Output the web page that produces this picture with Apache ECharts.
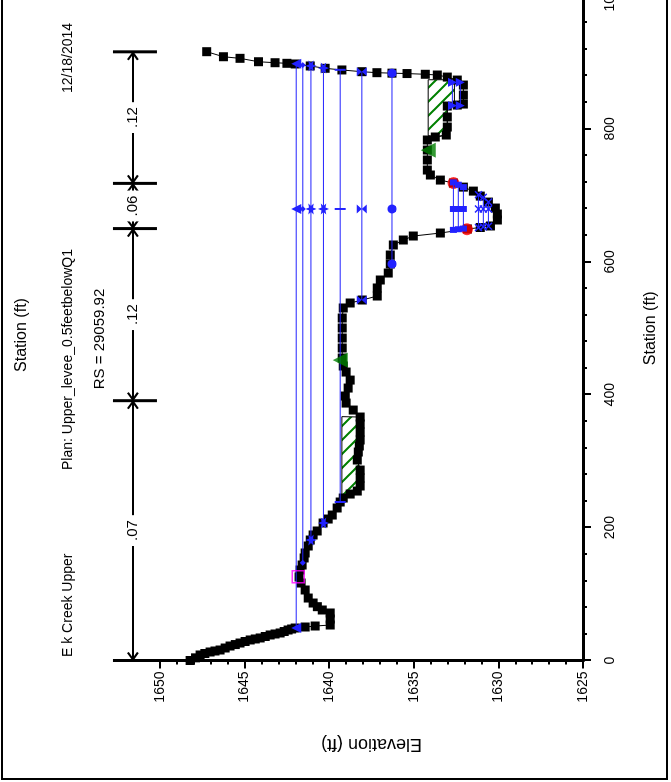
<!DOCTYPE html>
<html>
<head>
<meta charset="utf-8">
<script src="https://cdn.jsdelivr.net/npm/echarts@6/dist/echarts.min.js"></script>
<style>
    body { margin: 0; background: #fff; }
    #frame { position: relative; width: 671px; height: 782px; overflow: hidden; background: #fff; }
    #main { position: absolute; left: 0; top: 0; width: 790px; height: 671px; transform-origin: 0 0; transform: translate(0px, 782px) rotate(-90deg); }
    #border { position: absolute; left: 1px; top: -10px; width: 667px; height: 790px; border: 2px solid #000; box-sizing: border-box; pointer-events: none; }
</style>
</head>
<body>
<div id="frame">
    <div id="main"></div>
    <div id="border"></div>
</div>
<script>
    // ground profile (station ft, elevation ft)
    var groundStation = [0, 4, 8.3, 10.5, 12.8, 14.3, 15.8, 18.8, 21.8, 24, 26.3, 28.6, 30.9, 32.4, 33.9, 36.1, 38.4, 39.9, 41.4, 43.6, 45.9, 47.4, 48.9,
        50.4, 51.9, 53.4, 62.4, 71.5, 76, 81, 86.5, 94,
        106.1, 116.6, 125.7, 136.2, 143.7, 154.3, 161.8, 172.3, 181.3, 188.9, 194.9, 206.9, 212.9, 218.9, 229.5, 238.5, 244.5, 250.5, 255, 262.6,
        274.6, 286.6, 301.7, 313.7, 322.8, 331.8, 343.8, 355.9, 366.4, 376.9, 387.4, 398, 410, 422, 434.1, 443.2, 455.2, 470.3, 485.3, 500.4,
        515.4, 530.5, 538, 542.5, 548.5, 560.6, 572.6, 583.1, 596.7, 610.2, 625.3, 632.8, 638.8, 643.3, 649.4, 651.6, 653.9, 662.9, 671.9, 680.9,
        689.9, 698.9, 706.4, 712.4, 718.5, 723, 730.6, 738.1, 753.2, 768.2, 783.3, 787.8, 790.8, 802.8, 817.9, 834.4, 835.9, 837.4, 850.9, 866,
        873.5, 878, 881.1, 882.2, 883.3, 883.9, 884.6, 886.1, 888.7, 891.2, 894.7, 897.7, 898.7, 899.6, 901.1, 906.2, 908.6, 916.2];
    var groundElev = [1648.22, 1647.9, 1647.63, 1647.35, 1647.04, 1646.75, 1646.45, 1646.15, 1645.86, 1645.55, 1645.27, 1644.97, 1644.67, 1644.37, 1644.08, 1643.78, 1643.49, 1643.2, 1642.9, 1642.66, 1642.43, 1642.22, 1642.01,
        1641.42, 1640.83, 1639.94, 1639.94, 1639.94, 1640.41, 1640.7, 1640.95, 1641.24,
        1641.42, 1641.66, 1641.78, 1641.72, 1641.6, 1641.48, 1641.42, 1641.24, 1641.12, 1640.95, 1640.71, 1640.36, 1640.06, 1639.82, 1639.53, 1639.35, 1639.17, 1638.76, 1638.34, 1638.17,
        1638.17, 1638.17, 1638.34, 1638.28, 1638.22, 1638.17, 1638.17, 1638.17, 1638.17, 1638.58, 1639.0, 1639.05, 1638.88, 1638.76, 1639.0, 1639.17, 1639.23, 1639.23, 1639.23, 1639.23,
        1639.23, 1639.17, 1638.76, 1638.05, 1637.16, 1637.16, 1636.98, 1636.51, 1636.39, 1636.39, 1636.21, 1635.62, 1635.03, 1633.43, 1631.83, 1631.07, 1630.47, 1630.06, 1630.06, 1630.18,
        1630.59, 1631.07, 1631.48, 1632.07, 1632.66, 1633.43, 1634.02, 1634.2, 1634.2, 1634.2, 1634.2, 1633.73, 1633.08, 1633.02, 1633.02, 1633.02, 1632.43, 1632.07, 1632.07, 1632.07,
        1632.43, 1633.02, 1633.61, 1634.32, 1635.4, 1636.29, 1637.18, 1638.07, 1639.25, 1640.24, 1641.12, 1642.01, 1642.5, 1643.2, 1644.18, 1645.27, 1646.25, 1647.24];

    // water surfaces across the whole section
    var wsElev = [1641.95, 1641.56, 1641.08, 1640.34, 1639.35, 1638.07, 1636.29];
    var wsStart = [48.9, 147, 181.3, 206.9, 238.5, 542.5, 596.7];
    var wsEnd = [898, 896, 894.8, 891.5, 888.9, 886.1, 883.9];
    var wsMid = 679.5;

    // low water surfaces in the main channel
    var lowElev = [1632.66, 1632.37, 1632.07, 1631.18, 1630.89, 1630.59];
    var lowStart = [648, 649, 650, 651.5, 652.5, 653.5];
    var lowEnd = [719.5, 716, 712.4, 701, 697, 690];

    // ponded water right overbank
    var pondElev = [1632.72, 1632.25];
    var pondStart = [835, 835];
    var pondEnd = [870, 870];

    var bankStation = [649, 718.5];
    var bankElev = [1631.85, 1632.66];
    var ineffStation = [452, 768];
    var ineffElev = [1639.35, 1634.14];
    var leveeStation = [126];
    var leveeElev = [1641.83];

    var hatchAStation = [246, 367, 366.4, 355.9, 331.8, 301.7, 286.6, 262.6, 255, 250.5, 246];
    var hatchAElev = [1639.25, 1639.25, 1638.17, 1638.17, 1638.17, 1638.34, 1638.17, 1638.17, 1638.34, 1638.76, 1639.1];
    var hatchBStation = [790, 874, 874, 835.9, 834.4, 802.8, 790.8, 787.8];
    var hatchBElev = [1634.15, 1634.15, 1632.6, 1632.6, 1633.02, 1633.02, 1633.08, 1633.73];

    // manning's n
    var nStart = [0, 391, 650, 718];
    var nEnd = [391, 650, 718, 916];
    var nLabel = ['.07', '.12', '.06', '.12'];
    var nLineElev = 1651.6, nBarTop = 1652.78, nBarBottom = 1650.18;

    var FONT = 'Arial, "Liberation Sans", sans-serif';
    var BLUE = '#2222ff';

    function pair(xs, ys) {
        return xs.map(function (x, i) { return [x, ys[i]]; });
    }

    function hatchPattern() {
        var c = document.createElement('canvas');
        c.width = 14; c.height = 14;
        var g = c.getContext('2d');
        g.strokeStyle = '#008000';
        g.lineWidth = 2;
        g.beginPath();
        g.moveTo(-7, 7); g.lineTo(7, 21);
        g.moveTo(0, 0); g.lineTo(14, 14);
        g.moveTo(7, -7); g.lineTo(21, 7);
        g.stroke();
        return c;
    }
    var pattern = { image: hatchPattern(), repeat: 'repeat' };

    function polygonRenderer(xs, ys) {
        return function (params, api) {
            var pts = xs.map(function (x, i) { return api.coord([x, ys[i]]); });
            return {
                type: 'polygon',
                shape: { points: pts },
                style: { fill: pattern, stroke: '#000', lineWidth: 1 }
            };
        };
    }

    function renderN(params, api) {
        var i = params.dataIndex;
        var a = api.coord([nStart[i], nLineElev]);
        var b = api.coord([nEnd[i], nLineElev]);
        var top = api.coord([nEnd[i], nBarTop]);
        var bot = api.coord([nEnd[i], nBarBottom]);
        var y = a[1];
        var kids = [
            { type: 'line', shape: { x1: a[0], y1: y, x2: b[0], y2: y }, style: { stroke: '#000', lineWidth: 2 } },
            { type: 'polyline', shape: { points: [[a[0] + 8, y - 5], [a[0] + 1, y], [a[0] + 8, y + 5]] }, style: { stroke: '#000', lineWidth: 2, fill: null } },
            { type: 'polyline', shape: { points: [[b[0] - 8, y - 5], [b[0] - 1, y], [b[0] - 8, y + 5]] }, style: { stroke: '#000', lineWidth: 2, fill: null } },
            { type: 'line', shape: { x1: b[0], y1: top[1], x2: b[0], y2: bot[1] }, style: { stroke: '#000', lineWidth: 3 } },
            {
                type: 'text', x: (a[0] + b[0]) / 2, y: y,
                style: { text: nLabel[i], fill: '#000', font: '15px ' + FONT, align: 'center', verticalAlign: 'middle', backgroundColor: '#fff', padding: [0, 5] }
            }
        ];
        if (i === 0) {
            var z0 = api.coord([0, 1650]);
            var z1 = api.coord([0, nBarTop]);
            kids.push({ type: 'line', shape: { x1: z0[0], y1: z0[1], x2: z1[0], y2: z1[1] }, style: { stroke: '#000', lineWidth: 3 } });
        }
        return { type: 'group', children: kids };
    }

    var STAR = 'path://M5,0 L6.2,3.2 L9.5,2.5 L7.5,5 L9.5,7.5 L6.2,6.8 L5,10 L3.8,6.8 L0.5,7.5 L2.5,5 L0.5,2.5 L3.8,3.2 Z';
    var wsSymbols = [
        { symbol: 'triangle', size: 10 },
        { symbol: 'diamond', size: 6 },
        { symbol: STAR, size: 11 },
        { symbol: STAR, size: 11 },
        { symbol: 'rect', size: [2, 11] },
        { symbol: 'path://M0,0 L10,0 L0,10 L10,10 Z', size: [9, 10] },
        { symbol: 'circle', size: 9 }
    ];

    var series = [];

    series.push({ type: 'custom', renderItem: polygonRenderer(hatchAStation, hatchAElev), data: [[hatchAStation[0], hatchAElev[0]]], z: 1, silent: true });
    series.push({ type: 'custom', renderItem: polygonRenderer(hatchBStation, hatchBElev), data: [[hatchBStation[0], hatchBElev[0]]], z: 1, silent: true });

    series.push({
        type: 'line', data: pair(groundStation, groundElev), z: 2,
        symbol: 'rect', symbolSize: 9, showSymbol: true,
        lineStyle: { color: '#000', width: 1 }, itemStyle: { color: '#000' }
    });

    series.push({
        type: 'scatter', data: pair(bankStation, bankElev), z: 3,
        symbol: 'circle', symbolSize: 12, itemStyle: { color: '#ff0000' }
    });

    wsElev.forEach(function (e, i) {
        var s = wsSymbols[i];
        series.push({
            type: 'line', z: 4,
            data: [[wsStart[i], e], [wsMid, e], [wsEnd[i], e]],
            symbol: s.symbol, symbolSize: s.size, showSymbol: true,
            lineStyle: { color: BLUE, width: 1 }, itemStyle: { color: BLUE }
        });
    });

    lowElev.forEach(function (e, i) {
        series.push({
            type: 'line', z: 4,
            data: [[lowStart[i], e], [wsMid, e], [lowEnd[i], e]],
            symbol: i < 3 ? 'rect' : 'path://M0,0 L10,10 M10,0 L0,10',
            symbolSize: i < 3 ? [6, 7] : 7, showSymbol: true,
            lineStyle: { color: BLUE, width: 1 },
            itemStyle: { color: BLUE, borderColor: BLUE, borderWidth: i < 3 ? 0 : 1.5 }
        });
    });

    pondElev.forEach(function (e, i) {
        series.push({
            type: 'line', z: 4,
            data: [[pondStart[i], e], [pondEnd[i], e]],
            symbol: 'triangle', symbolRotate: 180, symbolSize: 9, showSymbol: true,
            lineStyle: { color: BLUE, width: 1 }, itemStyle: { color: BLUE }
        });
    });

    series.push({
        type: 'scatter', data: pair(ineffStation, ineffElev), z: 5,
        symbol: 'triangle', symbolSize: 15, itemStyle: { color: '#008000' }
    });
    series.push({
        type: 'scatter', data: pair(leveeStation, leveeElev), z: 5,
        symbol: 'rect', symbolSize: 12, itemStyle: { color: 'rgba(0,0,0,0)', borderColor: '#ff00ff', borderWidth: 1.5 }
    });

    series.push({
        type: 'custom', renderItem: renderN, z: 6, silent: true,
        data: nStart.map(function (s, i) { return [s, nEnd[i]]; })
    });

    var axisCommon = {
        type: 'value',
        axisLine: { show: true, onZero: false, lineStyle: { color: '#000', width: 3 } },
        axisTick: { show: true, inside: false, length: 8, lineStyle: { color: '#000', width: 2 } },
        minorTick: { show: true, splitNumber: 5, length: 4, lineStyle: { color: '#000', width: 2 } },
        splitLine: { show: false },
        axisLabel: { color: '#000', fontSize: 14, fontFamily: FONT, formatter: function (v) { return String(v); } },
        nameLocation: 'middle',
        nameTextStyle: { color: '#000', fontSize: 16, fontFamily: FONT }
    };

    var chart = echarts.init(document.getElementById('main'), null, { renderer: 'canvas' });
    var options = {
        animation: false,
        backgroundColor: '#fff',
        grid: { left: 121.5, right: 4, top: 160, bottom: 88, outerBoundsMode: 'none', containLabel: false },
        xAxis: Object.assign({}, axisCommon, {
            min: 0, max: 1000, interval: 200,
            name: 'Station (ft)', nameGap: 60,
            axisLabel: Object.assign({}, axisCommon.axisLabel, { margin: 20 })
        }),
        yAxis: Object.assign({}, axisCommon, {
            min: 1625, max: 1650, interval: 5,
            name: 'Elevation (ft)', nameGap: 74,
            nameTextStyle: { color: '#000', fontSize: 18, fontFamily: FONT },
            axisLabel: Object.assign({}, axisCommon.axisLabel, { margin: 11 })
        }),
        graphic: [
            { type: 'text', x: 447, y: 22, style: { text: 'Station (ft)', font: '16px ' + FONT, fill: '#000', align: 'center', verticalAlign: 'middle' } },
            { type: 'text', x: 125, y: 68, style: { text: 'E k Creek Upper', font: '14px ' + FONT, fill: '#000', align: 'left', verticalAlign: 'middle' } },
            { type: 'text', x: 312, y: 68, style: { text: 'Plan: Upper_levee_0.5feetbelowQ1', font: '14px ' + FONT, fill: '#000', align: 'left', verticalAlign: 'middle' } },
            { type: 'text', x: 689, y: 68, style: { text: '12/18/2014', font: '14px ' + FONT, fill: '#000', align: 'left', verticalAlign: 'middle' } },
            { type: 'text', x: 443, y: 100, style: { text: 'RS = 29059.92', font: '15px ' + FONT, fill: '#000', align: 'center', verticalAlign: 'middle' } }
        ],
        series: series
    };
    chart.setOption(options);
</script>
</body>
</html>
